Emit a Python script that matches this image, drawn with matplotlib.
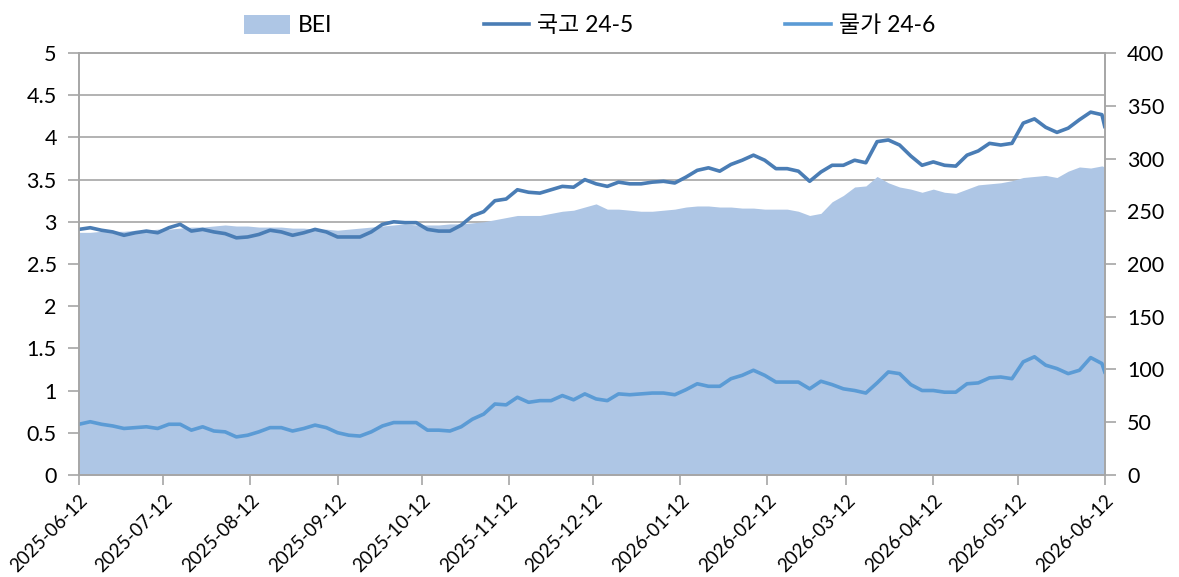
import matplotlib
matplotlib.use("Agg")
import matplotlib.pyplot as plt
import matplotlib.dates as mdates
import pandas as pd

plt.rcParams['font.family'] = ['Lato', 'Noto Sans CJK KR', 'DejaVu Sans']

# sample dates every 4 days + final day
dates = list(pd.date_range('2025-06-12', '2026-06-11', freq='4D')) + [pd.Timestamp('2026-06-12')]

# 국고 24-5 yield (%)
gov_24_5 = [2.91, 2.93, 2.90, 2.88, 2.84, 2.87, 2.89, 2.87, 2.93, 2.97,
            2.89, 2.91, 2.88, 2.86, 2.81, 2.82, 2.85, 2.90, 2.88, 2.84,
            2.87, 2.91, 2.88, 2.82, 2.82, 2.82, 2.88, 2.97, 3.00, 2.99,
            2.99, 2.91, 2.89, 2.89, 2.96, 3.07, 3.12, 3.25, 3.27, 3.38,
            3.35, 3.34, 3.38, 3.42, 3.41, 3.50, 3.45, 3.42, 3.47, 3.45,
            3.45, 3.47, 3.48, 3.46, 3.53, 3.61, 3.64, 3.60, 3.68, 3.73,
            3.79, 3.73, 3.63, 3.63, 3.60, 3.48, 3.59, 3.67, 3.67, 3.73,
            3.70, 3.95, 3.97, 3.91, 3.78, 3.67, 3.71, 3.67, 3.66, 3.79,
            3.84, 3.93, 3.91, 3.93, 4.17, 4.22, 4.12, 4.06, 4.11, 4.21,
            4.30, 4.27, 4.13]

# 물가 24-6 yield (%)
ilb_24_6 = [0.60, 0.63, 0.60, 0.58, 0.55, 0.56, 0.57, 0.55, 0.60, 0.60,
            0.53, 0.57, 0.52, 0.51, 0.45, 0.47, 0.51, 0.56, 0.56, 0.52,
            0.55, 0.59, 0.56, 0.50, 0.47, 0.46, 0.51, 0.58, 0.62, 0.62,
            0.62, 0.53, 0.53, 0.52, 0.57, 0.66, 0.72, 0.84, 0.83, 0.92,
            0.86, 0.88, 0.88, 0.94, 0.89, 0.96, 0.90, 0.88, 0.96, 0.95,
            0.96, 0.97, 0.97, 0.95, 1.01, 1.08, 1.05, 1.05, 1.14, 1.18,
            1.24, 1.18, 1.10, 1.10, 1.10, 1.02, 1.11, 1.07, 1.02, 1.00,
            0.97, 1.09, 1.22, 1.20, 1.07, 1.00, 1.00, 0.98, 0.98, 1.08,
            1.09, 1.15, 1.16, 1.14, 1.34, 1.40, 1.30, 1.26, 1.20, 1.24,
            1.39, 1.32, 1.22]

# BEI (bp, right axis)
bei = [230, 230, 231, 231, 231, 232, 232, 233, 233, 234,
       235, 235, 236, 237, 236, 236, 235, 235, 235, 234,
       234, 233, 233, 232, 233, 234, 235, 236, 237, 238,
       237, 237, 237, 238, 238, 239, 240, 242, 244, 246,
       246, 246, 248, 250, 251, 254, 257, 252, 252, 251,
       250, 250, 251, 252, 254, 255, 255, 254, 254, 253,
       253, 252, 252, 252, 250, 246, 248, 259, 265, 273,
       274, 283, 277, 273, 271, 268, 271, 268, 267, 271,
       275, 276, 277, 279, 282, 283, 284, 282, 288, 292,
       291, 293, 292]

month_ticks = pd.date_range('2025-06-01', '2026-06-01', freq='MS') + pd.Timedelta(days=11)

grid_col = '#a6a6a6'

fig = plt.figure(figsize=(11.79, 5.77), dpi=100)
ax = fig.add_axes([0.067, 0.177, 0.870, 0.731])
ax2 = ax.twinx()

# area on the right axis, drawn underneath the lines
ax2.fill_between(dates, 0, bei, color='#aec6e5', linewidth=0, label='BEI', zorder=2)
ax2.set_ylim(0, 400)
ax2.set_yticks(range(0, 401, 50))
ax2.set_yticks([i * 40 for i in range(11)], minor=True)
ax2.yaxis.grid(True, which='minor', color=grid_col, linewidth=1.2, zorder=0)
ax2.set_axisbelow(True)
ax2.tick_params(axis='y', which='minor', length=0)

ax.set_zorder(ax2.get_zorder() + 1)
ax.patch.set_visible(False)

ax.plot(dates, gov_24_5, color='#4a7db5', linewidth=2.6, label='국고 24-5')
ax.plot(dates, ilb_24_6, color='#5b9bd5', linewidth=2.6, label='물가 24-6')
ax.set_ylim(0, 5)
ax.set_yticks([0, 0.5, 1, 1.5, 2, 2.5, 3, 3.5, 4, 4.5, 5])
ax.set_yticklabels(['0', '0.5', '1', '1.5', '2', '2.5', '3', '3.5', '4', '4.5', '5'])
ax.set_xlim(pd.Timestamp('2025-06-12'), pd.Timestamp('2026-06-12'))
ax.set_xticks(month_ticks)
ax.xaxis.set_major_formatter(mdates.DateFormatter('%Y-%m-%d'))
plt.setp(ax.get_xticklabels(), rotation=45, ha='right', rotation_mode='anchor')

for a in (ax, ax2):
    for s in a.spines.values():
        s.set_color(grid_col)
        s.set_linewidth(1.2)
ax.tick_params(axis='y', labelsize=15.5, length=8, color=grid_col, width=1.2, pad=8)
ax.tick_params(axis='x', labelsize=13.5, length=7, color=grid_col, width=1.2, pad=5)
ax2.tick_params(axis='y', which='major', labelsize=15.5, length=8, color=grid_col, width=1.2, pad=8)

h1, l1 = ax2.get_legend_handles_labels()
h2, l2 = ax.get_legend_handles_labels()
fig.legend(h1 + h2, l1 + l2, loc='upper center', bbox_to_anchor=(0.5, 1.01), ncol=3,
           frameon=False, fontsize=16.5, handlelength=2.0, handleheight=0.9,
           columnspacing=6.6, handletextpad=0.35)

fig.savefig('out.png', dpi=100)
